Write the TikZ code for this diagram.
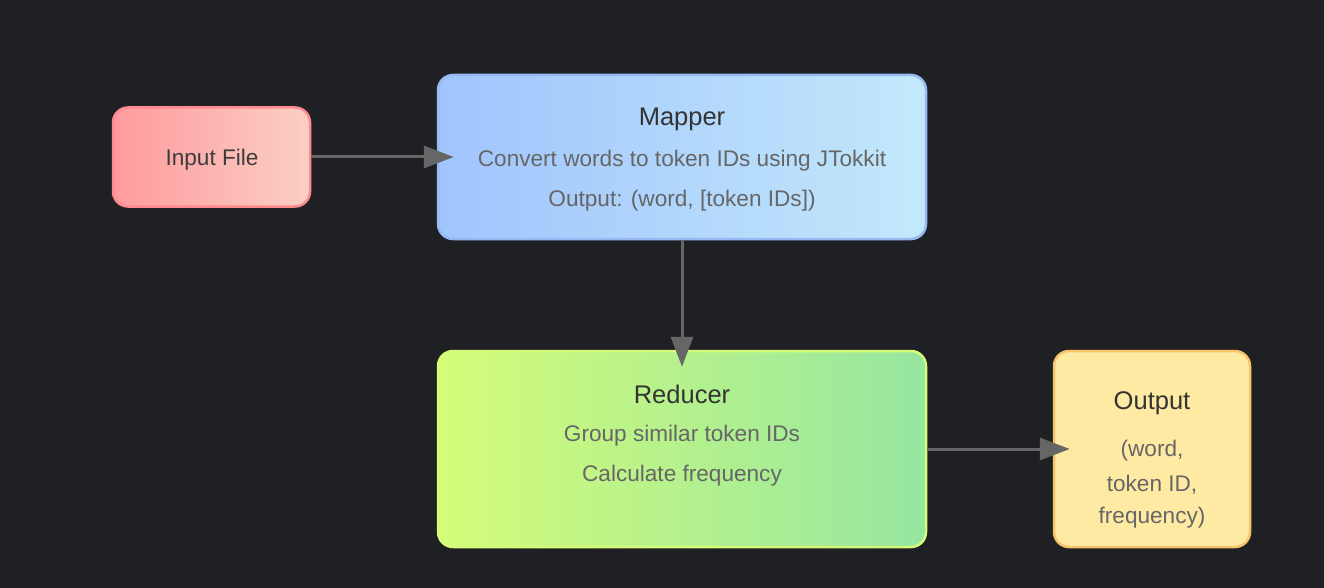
\documentclass[tikz,border=0pt]{standalone}
\usepackage{fontspec}
\setmainfont{Liberation Sans}
\usetikzlibrary{arrows.meta}
\definecolor{bg}{HTML}{1F2023}
\definecolor{titlec}{HTML}{333333}
\definecolor{bodyc}{HTML}{666666}
\definecolor{arrowc}{HTML}{666666}
\definecolor{inL}{HTML}{FF9A9E}
\definecolor{inR}{HTML}{FAD0C4}
\definecolor{inB}{HTML}{FF8A90}
\definecolor{mapL}{HTML}{A1C4FD}
\definecolor{mapR}{HTML}{C2E9FB}
\definecolor{mapB}{HTML}{98B8F2}
\definecolor{redL}{HTML}{D4FC79}
\definecolor{redR}{HTML}{96E6A1}
\definecolor{redB}{HTML}{D4FC79}
\definecolor{outF}{HTML}{FFEAA3}
\definecolor{outB}{HTML}{F8C36B}
\tikzset{
  box/.style={rectangle, rounded corners=15pt, line width=2.5pt, inner sep=0pt},
  ttl/.style={text=titlec, font=\fontsize{25.5}{30}\selectfont, inner sep=0pt},
  bdy/.style={text=bodyc, font=\fontsize{22.6}{27}\selectfont, inner sep=0pt},
  conn/.style={draw=arrowc, line width=3pt, -{Triangle[length=30pt,width=22pt]}, shorten >=-17pt}
}
\begin{document}
\begin{tikzpicture}[x=1pt,y=-1pt]
\fill[bg] (0,0) rectangle (1324,588);
\useasboundingbox (0,0) rectangle (1324,588);
% boxes
\node[box, draw=inB, left color=inL, right color=inR, minimum width=197pt, minimum height=99pt] (inp) at (211.5,157) {};
\node[box, draw=mapB, left color=mapL, right color=mapR, minimum width=488pt, minimum height=164pt] (map) at (682,157) {};
\node[box, draw=redB, left color=redL, right color=redR, minimum width=488pt, minimum height=196pt] (red) at (682,449) {};
\node[box, draw=outB, fill=outF, minimum width=196pt, minimum height=196pt] (out) at (1152,449) {};
% texts
\node[bdy, text=titlec!80!bodyc] (inpT) at (212,160) {Input File};
\node[ttl] (mapT) at (682,119) {Mapper};
\node[bdy] (mapA) at (682,161) {Convert words to token IDs using JTokkit};
\node[bdy] (mapB2) at (682,201) {Output: (word, [token IDs])};
\node[ttl] (redT) at (682,394) {Reducer};
\node[bdy] (redA) at (682,436) {Group similar token IDs};
\node[bdy] (redB2) at (682,476) {Calculate frequency};
\node[ttl] (outT) at (1152,403) {Output};
\node[bdy] (outA) at (1152,451) {(word,};
\node[bdy] (outB2) at (1152,485) {token ID,};
\node[bdy] (outC) at (1152,518) {frequency)};
% connectors
\draw[conn] (inp.east) -- (map.west |- inp.east);
\draw[conn] (map.south) -- (red.north);
\draw[conn] (red.east) -- (out.west);
\end{tikzpicture}
\end{document}
